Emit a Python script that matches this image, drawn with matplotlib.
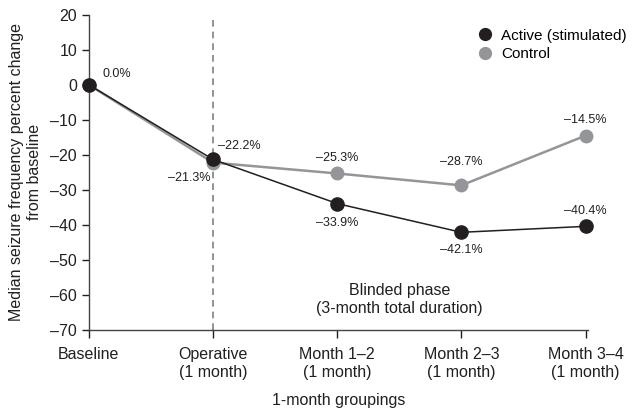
import matplotlib.pyplot as plt
from matplotlib.lines import Line2D
from matplotlib.ticker import FuncFormatter

plt.rcParams['font.family'] = ['Liberation Sans', 'DejaVu Sans']

groups = ['Baseline', 'Operative\n(1 month)', 'Month 1\u20132\n(1 month)',
          'Month 2\u20133\n(1 month)', 'Month 3\u20134\n(1 month)']
active = [0.0, -21.3, -33.9, -42.1, -40.4]
control = [0.0, -22.2, -25.3, -28.7, -14.5]

# label offsets in points (dx, dy) for each value label
active_offsets = [(20, 8), (-17, -13), (0, -14), (0, -13), (0, 11)]
control_offsets = [None, (19, 12), (0, 11), (0, 17), (0, 11)]

black = '#231f20'
grey = '#939598'

fig = plt.figure(figsize=(6.35, 4.11), dpi=100)
ax = fig.add_axes([0.140, 0.197, 0.786, 0.767])

x = list(range(len(groups)))

ax.axvline(1, color='#808080', lw=1.2, ls=(0, (4, 3)), zorder=1)

ax.plot(x, control, color=grey, lw=1.8, marker='o', ms=9, mec=grey, mfc=grey,
        zorder=2, clip_on=False)
ax.plot(x, active, color=black, lw=1.1, marker='o', ms=9.5, mec=black, mfc=black,
        zorder=3, clip_on=False)


def fmt(v):
    s = f'{v:.1f}%'
    return s.replace('-', '\u2013')


for xi, v, off in zip(x, active, active_offsets):
    ax.annotate(fmt(v), (xi, v), xytext=off, textcoords='offset points',
                ha='center', va='center', fontsize=9, color=black)
for xi, v, off in zip(x, control, control_offsets):
    if off is None:
        continue
    ax.annotate(fmt(v), (xi, v), xytext=off, textcoords='offset points',
                ha='center', va='center', fontsize=9, color=black)

ax.text(2.5, -61.3, 'Blinded phase\n(3-month total duration)', ha='center', va='center',
        fontsize=11.5, color=black, linespacing=1.3)

ax.set_xlim(0, 4.02)
ax.set_ylim(-70, 20)
ax.set_yticks(range(-70, 21, 10))
ax.yaxis.set_major_formatter(FuncFormatter(lambda v, p: f'{int(v)}'.replace('-', '\u2013')))
ax.set_xticks(x)
ax.set_xticklabels(groups, fontsize=11.5, color=black, linespacing=1.3)
ax.tick_params(axis='y', labelsize=11.5, colors=black, length=5, width=1)
ax.tick_params(axis='x', length=6, width=1, colors=black, pad=6)

for side in ['top', 'right']:
    ax.spines[side].set_visible(False)
for side in ['left', 'bottom']:
    ax.spines[side].set_linewidth(1.0)
    ax.spines[side].set_color('#444444')

ax.set_ylabel('Median seizure frequency percent change\nfrom baseline', fontsize=11.5,
              color=black, labelpad=6, linespacing=1.2)
ax.set_xlabel('1-month groupings', fontsize=11.5, color=black, labelpad=9)

handles = [Line2D([], [], ls='none', marker='o', ms=8.5, color=black),
           Line2D([], [], ls='none', marker='o', ms=8.5, color=grey)]
fig.legend(handles, ['Active (stimulated)', 'Control'], loc='upper left',
           bbox_to_anchor=(466 / 635, 1 - 21 / 411), frameon=False, fontsize=11,
           handletextpad=0.3, labelspacing=0.3, borderpad=0, handlelength=1.5)

fig.savefig('out.png', dpi=100)
